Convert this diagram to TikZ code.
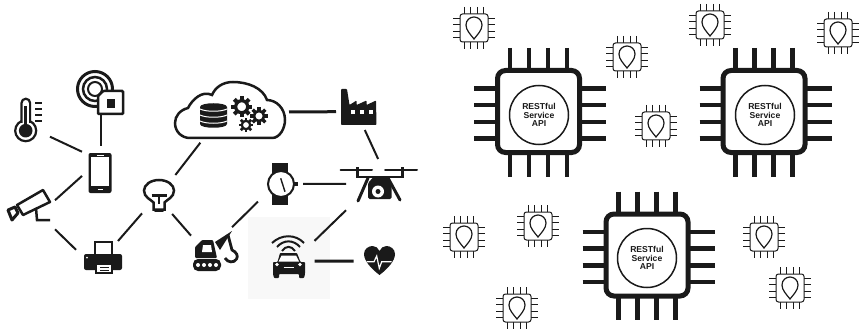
\documentclass[tikz,border=0pt]{standalone}
\usepackage{fontspec}
\setmainfont{Liberation Sans}
\usepackage{xcolor}
\usetikzlibrary{positioning}
\definecolor{ink}{HTML}{1A1A1A}
\definecolor{patch}{HTML}{F8F8F8}

\tikzset{
  bigchip/.pic={
    \foreach \p in {-28.5,-9.5,9.5,28.5} {
      \draw[line width=4.6pt] (\p,-63.5) -- (\p,65);
    }
    \foreach \p in {-23,-6.3,10.4,27} {
      \draw[line width=4.6pt] (-64.5,\p) -- (67.5,\p);
    }
    \draw[line width=5pt, fill=white, rounded corners=8pt] (-41,-41) rectangle (41,41);
  },
  smallchip/.pic={
    \foreach \p in {-9.5,-3.2,3.2,9.5} {
      \draw[line width=1pt] (\p,-21) -- (\p,21);
      \draw[line width=1pt] (-21,\p) -- (21,\p);
    }
    \draw[line width=1pt, fill=white, rounded corners=2.5pt] (-14,-14) rectangle (14,14);
    \draw[line width=1.2pt] (0,11) .. controls (-4,6) and (-8,2) .. (-8,-3)
      .. controls (-8,-8) and (-4,-11) .. (0,-11)
      .. controls (4,-11) and (8,-8) .. (8,-3)
      .. controls (8,2) and (4,6) .. (0,11) -- cycle;
  },
  pics/gearicon/.style={code={
    \draw[line width=.32*#1] (0,0) circle[radius=.6*#1];
    \foreach \a in {0,45,...,315} {
      \fill[rotate=\a] (.65*#1,-.2*#1) rectangle (1.05*#1,.2*#1);
    }
  }},
  thermoicon/.pic={
    \draw[line width=2.2pt, fill=white] (-1.3,10.7) circle[radius=10.5];
    \draw[line width=2.2pt, fill=white] (-5.5,3) -- (-5.5,-17) arc[start angle=180, end angle=360, radius=4.3] -- (3.1,3);
    \fill[white] (-4.4,-2) rectangle (2,8);
    \fill (-1.3,10.7) circle[radius=6.8];
    \draw[line width=3pt] (-1.2,8) -- (-1.2,-14);
    \foreach \y in {-17,-11,-5,1} {
      \draw[line width=2pt] (8,\y) -- (15,\y);
    }
  },
  tagicon/.pic={
    \draw[line width=3pt] (-5.5,-3) circle[radius=17.5];
    \draw[line width=2.5pt] (-5.5,-3) circle[radius=12];
    \draw[line width=2pt] (-5.5,-3) circle[radius=7];
    \draw[line width=2.5pt, fill=white, rounded corners=1pt] (-2.5,4) -- (2.5,-1) -- (22.5,-1) -- (22.5,22) -- (-2.5,22) -- cycle;
    \fill (6.5,7) rectangle (14.5,16);
  },
  phoneicon/.pic={
    \fill[rounded corners=2pt] (-12,-20) rectangle (11,20);
    \fill[white] (-9.5,-16) rectangle (8.5,13);
    \draw[white, line width=.8pt] (-4,-18) -- (3,-18);
    \draw[white, line width=1pt] (-3,16.5) -- (2,16.5);
  },
  cameraicon/.pic={
    \draw[line width=2.5pt] (8,3) -- (9,15) -- (22,15);
    \draw[line width=3pt, fill=white, line join=round] (-20,5) -- (-13,2) -- (-10,8) -- (-16,15) -- cycle;
    \draw[line width=2.5pt, fill=white, line join=round] (-11,0) -- (15,-15) -- (22,-3) -- (-5,10) -- cycle;
  },
  printericon/.pic={
    \draw[line width=2pt, fill=white] (-8,4) -- (-8,-14) -- (9,-14) -- (9,4);
    \fill[rounded corners=2pt] (-19,-2) rectangle (19,14);
    \fill[white] (-16,1.5) circle[radius=1];
    \draw[line width=1.5pt, fill=white] (-7,8) rectangle (9,17);
    \draw[line width=.8pt] (-3,11) -- (6,11);
    \draw[line width=.8pt] (-3,14) -- (6,14);
  },
  bulbicon/.pic={
    \draw[line width=2.5pt, fill=white] (-5.5,15) -- (-5.5,8) .. controls (-8,5) and (-15,3) .. (-15,-4)
      .. controls (-15,-10) and (-8,-14.5) .. (0,-14.5)
      .. controls (8,-14.5) and (15,-10) .. (15,-4)
      .. controls (15,3) and (8,5) .. (5.5,8) -- (5.5,15) -- cycle;
    \draw[line width=2.5pt] (-7.5,1) -- (7.5,1);
    \draw[line width=2.5pt] (0,1) -- (0,9);
    \draw[line width=3pt, line cap=round] (-4,15.5) -- (4,15.5);
  },
  cloudicon/.pic={
    \draw[line width=2.5pt, fill=white] (-40,26) -- (42,26) .. controls (50,26) and (55,16) .. (55,8)
      .. controls (55,-4) and (46,-12) .. (37,-12)
      .. controls (33,-24) and (18,-30) .. (3,-30)
      .. controls (-8,-30) and (-15,-24) .. (-18,-17)
      .. controls (-28,-22) and (-38,-12) .. (-42,-4)
      .. controls (-50,-2) and (-55,4) .. (-55,11)
      .. controls (-55,20) and (-48,26) .. (-40,26) -- cycle;
    \fill (-30,-5) .. controls (-30,-10) and (-3,-10) .. (-3,-5) -- (-3,12)
      .. controls (-3,17) and (-30,17) .. (-30,12) -- cycle;
    \foreach \y in {-3,3,9} {
      \draw[white, line width=1pt] (-30,\y) .. controls (-24,\y+3) and (-9,\y+3) .. (-3,\y);
    }
    \pic at (11.7,-5.3) {gearicon=10};
    \pic at (29,4) {gearicon=8.5};
    \pic at (16,13) {gearicon=7};
  },
  factoryicon/.pic={
    \fill[rounded corners=.8pt] (-17.5,18.5) -- (-17.5,-17.5) -- (-11.5,-17.5) -- (-9,-1.5) -- (-2,-6) -- (-2,-1.5)
      -- (8,-6) -- (8,-1.5) -- (17.5,-6) -- (18,18.5) -- cycle;
    \foreach \x in {-6,3,12} {
      \fill[white] (\x-2,3.5) rectangle (\x+2,7.5);
    }
  },
  droneicon/.pic={
    \draw[line width=2pt, line cap=round] (-39,-15) -- (-7.5,-15);
    \draw[line width=2pt, line cap=round] (5.5,-15) -- (37.5,-15);
    \draw[line width=3pt] (-22.5,-18) -- (-22.5,-7);
    \draw[line width=3pt] (22.5,-18) -- (22.5,-7);
    \draw[line width=2.5pt] (-22.5,-8) -- (22.5,-8);
    \draw[line width=3pt, line cap=round] (-21.5,16) -- (-11.5,-7);
    \draw[line width=3pt, line cap=round] (20.5,15) -- (8.5,-7);
    \fill[rounded corners=1.5pt] (-11.5,-2) -- (-6,-8) -- (7,-8) -- (12,-2) -- (12,14) -- (-11.5,14) -- cycle;
    \fill[white] (-1.5,6.5) circle[radius=6];
    \fill (-1.5,6.5) circle[radius=2.5];
  },
  watchicon/.pic={
    \fill (-8.5,-21) rectangle (7.5,21);
    \fill (13,-2) rectangle (17,2);
    \draw[line width=2pt, fill=white] (.5,0) circle[radius=13];
    \draw[line width=1.4pt] (.2,-5.7) -- (4.5,7.7);
  },
  craneicon/.pic={
    \fill[rounded corners=5pt] (-18.5,9) rectangle (9.5,21);
    \foreach \x in {-13.5,-7.5,-1.5,4.5} {
      \fill[white] (\x,15) circle[radius=2];
    }
    \fill[rounded corners=1pt] (-16.5,8) -- (-16.5,-3) -- (-9.5,-10) -- (1.5,-10) -- (5.5,8) -- cycle;
    \fill[white] (-8.5,-5) -- (-.5,-5) -- (.5,2) -- (-9.5,2) -- cycle;
    \fill (3.5,-8) -- (20.5,-19) -- (8.5,0) -- cycle;
    \draw[line width=2.8pt] (16.5,-15) -- (20.5,0) .. controls (25,2) and (27,6) .. (25,9)
      .. controls (23,13) and (16,13) .. (13.5,8);
  },
  caricon/.pic={
    \draw[line width=2pt] (-17.5,-22) .. controls (-8,-31) and (6,-31) .. (14.5,-22);
    \draw[line width=2pt] (-12.5,-18) .. controls (-6,-25.5) and (4,-25.5) .. (10.5,-18);
    \draw[line width=2pt] (-7.5,-14) .. controls (-4,-19.5) and (2,-19.5) .. (5.5,-14);
    \fill[rounded corners=.8pt] (-9.5,-12) -- (7.5,-12) -- (11,-3) -- (15.5,-3) -- (15.5,9) -- (14.5,13) -- (9.5,13) -- (9.5,9)
      -- (-10.5,9) -- (-10.5,13) -- (-15.5,13) -- (-16.5,9) -- (-16.5,-3) -- (-12,-3) -- cycle;
    \fill[white] (-8,-9.5) -- (6.5,-9.5) -- (9.5,-3.5) -- (-11,-3.5) -- cycle;
    \fill[white] (-12.5,-.5) circle[radius=1.8];
    \fill[white] (10.5,-.5) circle[radius=1.8];
    \draw[white, line width=1pt] (-6,2) -- (4,2);
  },
  hearticon/.pic={
    \fill (0,14) .. controls (-8,8) and (-15.5,0) .. (-15.5,-7)
      .. controls (-15.5,-12) and (-11,-15) .. (-7,-15)
      .. controls (-4,-15) and (-1,-13) .. (0,-10)
      .. controls (1,-13) and (4,-15) .. (7,-15)
      .. controls (11,-15) and (15.5,-12) .. (15.5,-7)
      .. controls (15.5,0) and (8,8) .. (0,14) -- cycle;
    \draw[white, line width=1.2pt] (-12.8,.7) -- (-5.5,.7) -- (-2.8,-5) -- (-.2,7.3) -- (2.2,.7) -- (12.2,.7);
  }
}

\begin{document}
\begin{tikzpicture}[
    x=1pt, y=-1pt,
    color=ink,
    iconbox/.style={inner sep=0pt, outer sep=0pt},
    apitext/.style={draw, circle, line width=1.5pt, minimum size=59pt, inner sep=0pt, align=center,
      font=\fontsize{8.6}{8.5}\selectfont\bfseries},
    link/.style={line width=2pt},
    boldlink/.style={line width=3pt}
  ]
  \useasboundingbox (0,0) rectangle (859,334);
  \fill[patch] (248,217) rectangle (330,299);

  % things
  \node[iconbox, minimum width=46pt, minimum height=46pt] (thermo) at (27,120) {};
  \node[iconbox, minimum width=46pt, minimum height=43pt] (tag) at (100.5,92) {};
  \node[iconbox, minimum width=37pt, minimum height=54pt] (phone) at (100.5,173) {};
  \node[iconbox, minimum width=54pt, minimum height=54pt] (camera) at (28,205) {};
  \node[iconbox, minimum width=54pt, minimum height=30pt] (printer) at (103,256) {};
  \node[iconbox, minimum width=34pt, minimum height=39pt] (bulb) at (159,194.5) {};
  \node[iconbox, minimum width=118pt, minimum height=61.4pt] (cloud) at (230,112) {};
  \node[iconbox, minimum width=45pt, minimum height=47pt] (factory) at (358.5,106.5) {};
  \node[iconbox, minimum width=67pt, minimum height=52pt] (drone) at (379.5,185) {};
  \node[iconbox, minimum width=45pt, minimum height=46pt] (watch) at (280.5,184) {};
  \node[iconbox, minimum width=41pt, minimum height=46pt] (crane) at (211.5,250) {};
  \node[iconbox, minimum width=50pt, minimum height=52pt] (car) at (289.5,265) {};
  \node[iconbox, minimum width=52pt, minimum height=34pt] (heart) at (379.5,261) {};

  \pic at (thermo) {thermoicon};
  \pic at (tag) {tagicon};
  \pic at (phone) {phoneicon};
  \pic at (camera) {cameraicon};
  \pic at (printer) {printericon};
  \pic at (bulb) {bulbicon};
  \pic at (cloud) {cloudicon};
  \pic at (factory) {factoryicon};
  \pic at (drone) {droneicon};
  \pic at (watch) {watchicon};
  \pic at (crane) {craneicon};
  \pic at (car) {caricon};
  \pic at (heart) {hearticon};

  % links
  \draw[link] (thermo.-36.5) -- (phone.131.4);
  \draw[link] (tag.-90) -- (phone.90);
  \draw[link] (camera.10.5) -- (phone.189.2);
  \draw[link] (camera.-42.8) -- (printer.167.5);
  \draw[link] (printer.45) -- (bulb.228.9);
  \draw[link] (bulb.50.6) -- (cloud.226.3);
  \draw[link] (bulb.-56.3) -- (crane.145.7);
  \draw[link] (crane.48.3) -- (watch.218.7);
  \draw[link] (watch.0) -- (drone.178.3);
  \draw[link] (factory.-75.7) -- (drone.93.3);
  \draw[link] (drone.217.8) -- (car.44.5);
  \draw[boldlink] (cloud.0) -- (factory.193.7);
  \draw[boldlink] (car.9.1) -- (heart.180);

  % services
  \pic at (538.5,111.5) {bigchip};
  \pic at (764,111.5) {bigchip};
  \pic at (647,255) {bigchip};
  \node[apitext] (apileft) at (539,115) {RESTful\\Service\\API};
  \node[apitext] (apiright) at (765,115) {RESTful\\Service\\API};
  \node[apitext] (apilow) at (647,258) {RESTful\\Service\\API};

  \foreach \x/\y in {474/28, 627/57, 656/126, 710/25, 838/33, 464/237, 538/226, 764/237, 790/288, 517/308} {
    \pic at (\x,\y) {smallchip};
  }
\end{tikzpicture}
\end{document}
